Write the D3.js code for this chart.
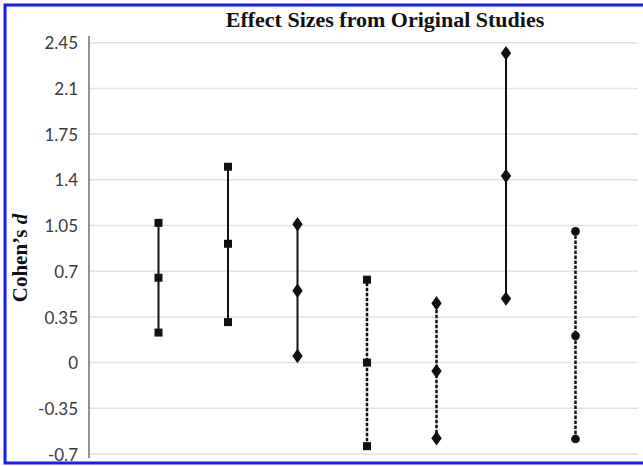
<!DOCTYPE html>
<html>
<head>
<meta charset="utf-8">
<script src="https://cdn.jsdelivr.net/npm/d3@7"></script>
<style>
  body { margin: 0; background: #fff; }
  svg { display: block; }
  .tick-label { font-family: Lato, "Liberation Sans", sans-serif; font-size: 17px; fill: #3a3a3a; }
  .title { font-family: "Liberation Serif", "Times New Roman", serif; font-weight: bold; font-size: 22px; fill: #111; }
</style>
</head>
<body>
<svg id="chart" width="643" height="466"></svg>
<script>
const studies = ['S1', 'S2', 'S3', 'S4', 'S5', 'S6', 'S7'];
const lower = [0.23, 0.31, 0.05, -0.64, -0.58, 0.49, -0.585];
const point = [0.65, 0.91, 0.55, 0.0, -0.065, 1.43, 0.205];
const upper = [1.07, 1.50, 1.06, 0.635, 0.455, 2.37, 1.005];
const markers = ['square', 'square', 'diamond', 'square', 'diamond', 'diamond', 'circle'];
const dashed = [false, false, false, true, true, false, true];
const tickValues = [-0.7, -0.35, 0, 0.35, 0.7, 1.05, 1.4, 1.75, 2.1, 2.45];

const svg = d3.select('#chart');
const width = 643, height = 466;
const margin = {top: 42.7, bottom: 454, left: 89, right: 645};

const y = d3.scaleLinear()
  .domain([-0.7, 2.45])
  .range([margin.bottom, margin.top]);

const x = d3.scalePoint()
  .domain(studies)
  .range([margin.left, margin.right])
  .padding(1);

const rows = studies.map((s, i) => ({
  name: s, lo: lower[i], mid: point[i], hi: upper[i],
  marker: markers[i], dashed: dashed[i]
}));

// gridlines
svg.append('g')
  .selectAll('line')
  .data(tickValues)
  .join('line')
    .attr('x1', margin.left)
    .attr('x2', 638)
    .attr('y1', d => y(d))
    .attr('y2', d => y(d))
    .attr('stroke', '#e2e2e2')
    .attr('stroke-width', 1.5);

// y axis
const yAxis = svg.append('g')
  .attr('transform', `translate(${margin.left}, 0)`)
  .call(d3.axisLeft(y).tickValues(tickValues).tickSize(0).tickPadding(11).tickFormat(d => String(d)));
yAxis.select('.domain')
  .attr('d', `M0,36V458`)
  .attr('stroke', '#777')
  .attr('stroke-width', 1.6);
yAxis.selectAll('.tick text')
  .attr('class', 'tick-label')
  .attr('font-family', null)
  .attr('font-size', null)
  .attr('fill', null)
  .attr('dy', '0.36em');

// error bars
svg.append('g')
  .selectAll('line')
  .data(rows)
  .join('line')
    .attr('x1', d => x(d.name))
    .attr('x2', d => x(d.name))
    .attr('y1', d => y(d.lo))
    .attr('y2', d => y(d.hi))
    .attr('stroke', '#111')
    .attr('stroke-width', d => d.dashed ? 2.5 : 2)
    .attr('stroke-dasharray', d => d.dashed ? '3.5,1.5' : null);

// markers
const symbolType = {square: d3.symbolSquare, diamond: d3.symbolDiamond, circle: d3.symbolCircle};
const symbolSize = {square: 64, diamond: 60, circle: 60};
const pts = rows.flatMap(d => [d.lo, d.mid, d.hi].map(v => ({name: d.name, v, marker: d.marker})));
svg.append('g')
  .selectAll('path')
  .data(pts)
  .join('path')
    .attr('transform', d => `translate(${x(d.name)}, ${y(d.v)}) scale(${d.marker === 'diamond' ? '1.25,1' : '1'})`)
    .attr('d', d => d3.symbol(symbolType[d.marker], symbolSize[d.marker])())
    .attr('fill', '#111');

// title
svg.append('text')
  .attr('class', 'title')
  .attr('x', 385)
  .attr('y', 27)
  .attr('text-anchor', 'middle')
  .text('Effect Sizes from Original Studies');

// y label
const yl = svg.append('text')
  .attr('class', 'title')
  .style('font-size', '21px')
  .attr('transform', 'translate(27, 258) rotate(-90)')
  .attr('text-anchor', 'middle');
yl.append('tspan').text('Cohen’s ');
yl.append('tspan').attr('font-style', 'italic').text('d');

// frame
svg.append('path')
  .attr('d', `M${width + 5},5H5V463H${width + 5}`)
  .attr('fill', 'none')
  .attr('stroke', '#1a1aff')
  .attr('stroke-width', 3);
</script>
</body>
</html>
